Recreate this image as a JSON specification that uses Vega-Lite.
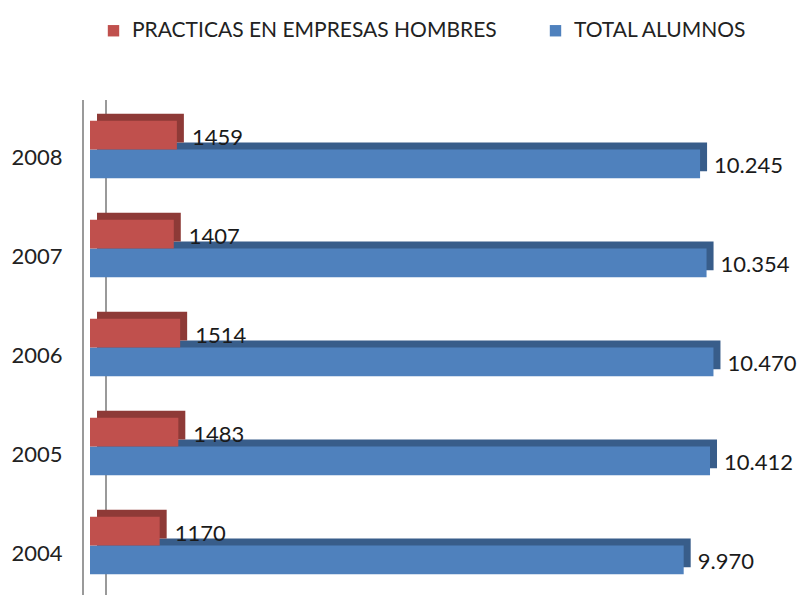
{
  "$schema": "https://vega.github.io/schema/vega-lite/v6.json",
  "width": 711,
  "height": 495,
  "autosize": "none",
  "padding": {"left": 90, "top": 100, "right": 0, "bottom": 0},
  "background": "white",
  "config": {
    "view": {"stroke": null},
    "font": "Lato",
    "axis": {"labelFont": "Lato", "labelColor": "#222", "labelFontSize": 22}
  },
  "data": {
    "values": [
      {"year": "2008", "serie": "PRACTICAS EN EMPRESAS HOMBRES", "value": 1459, "label": "1459"},
      {"year": "2008", "serie": "TOTAL ALUMNOS", "value": 10245, "label": "10.245"},
      {"year": "2007", "serie": "PRACTICAS EN EMPRESAS HOMBRES", "value": 1407, "label": "1407"},
      {"year": "2007", "serie": "TOTAL ALUMNOS", "value": 10354, "label": "10.354"},
      {"year": "2006", "serie": "PRACTICAS EN EMPRESAS HOMBRES", "value": 1514, "label": "1514"},
      {"year": "2006", "serie": "TOTAL ALUMNOS", "value": 10470, "label": "10.470"},
      {"year": "2005", "serie": "PRACTICAS EN EMPRESAS HOMBRES", "value": 1483, "label": "1483"},
      {"year": "2005", "serie": "TOTAL ALUMNOS", "value": 10412, "label": "10.412"},
      {"year": "2004", "serie": "PRACTICAS EN EMPRESAS HOMBRES", "value": 1170, "label": "1170"},
      {"year": "2004", "serie": "TOTAL ALUMNOS", "value": 9970, "label": "9.970"}
    ]
  },
  "encoding": {
    "y": {
      "field": "year", "type": "nominal", "sort": "descending",
      "scale": {"paddingInner": 0, "paddingOuter": 0},
      "axis": {"title": null, "domain": false, "ticks": false, "labelPadding": 28, "labelOffset": 8}
    },
    "x": {
      "field": "value", "type": "quantitative",
      "scale": {"domain": [0, 11940], "nice": false},
      "axis": null
    }
  },
  "layer": [
    {
      "mark": {"type": "rule", "color": "#9a9a9a", "strokeWidth": 2, "xOffset": -7},
      "encoding": {"x": {"datum": 0, "type": "quantitative"}, "y": null}
    },
    {
      "mark": {"type": "rule", "color": "#9a9a9a", "strokeWidth": 2, "xOffset": 16},
      "encoding": {"x": {"datum": 0, "type": "quantitative"}, "y": null}
    },
    {
      "transform": [{"filter": "datum.serie === 'TOTAL ALUMNOS'"}],
      "mark": {"type": "bar", "height": {"band": 0.29}, "fill": "#385D8A", "xOffset": 7, "x2Offset": 7, "yOffset": 7.35}
    },
    {
      "transform": [{"filter": "datum.serie === 'PRACTICAS EN EMPRESAS HOMBRES'"}],
      "mark": {"type": "bar", "height": {"band": 0.29}, "fill": "#8E3A37", "xOffset": 7, "x2Offset": 7, "yOffset": -21.35}
    },
    {
      "transform": [{"filter": "datum.serie === 'TOTAL ALUMNOS'"}],
      "mark": {"type": "bar", "height": {"band": 0.29}, "yOffset": 14.35},
      "encoding": {
        "color": {
          "field": "serie", "type": "nominal",
          "scale": {"domain": ["PRACTICAS EN EMPRESAS HOMBRES", "TOTAL ALUMNOS"], "range": ["#C0504D", "#4F81BD"]},
          "legend": {
            "title": null, "orient": "none", "direction": "horizontal",
            "legendX": 13, "legendY": -80,
            "symbolType": "square", "symbolSize": 130, "symbolStrokeWidth": 0,
            "labelFontSize": 21, "labelFont": "Lato", "labelColor": "#222",
            "columnPadding": 48, "labelLimit": 500, "labelOffset": 8
          }
        }
      }
    },
    {
      "transform": [{"filter": "datum.serie === 'PRACTICAS EN EMPRESAS HOMBRES'"}],
      "mark": {"type": "bar", "height": {"band": 0.29}, "yOffset": -14.35},
      "encoding": {"color": {"field": "serie", "type": "nominal"}}
    },
    {
      "transform": [{"filter": "datum.serie === 'TOTAL ALUMNOS'"}],
      "mark": {"type": "text", "align": "left", "baseline": "middle", "dx": 14, "yOffset": 16, "fontSize": 22, "font": "Lato", "color": "#1a1a1a"},
      "encoding": {"text": {"field": "label"}}
    },
    {
      "transform": [{"filter": "datum.serie === 'PRACTICAS EN EMPRESAS HOMBRES'"}],
      "mark": {"type": "text", "align": "left", "baseline": "middle", "dx": 15, "yOffset": -12, "fontSize": 22, "font": "Lato", "color": "#1a1a1a"},
      "encoding": {"text": {"field": "label"}}
    }
  ]
}
